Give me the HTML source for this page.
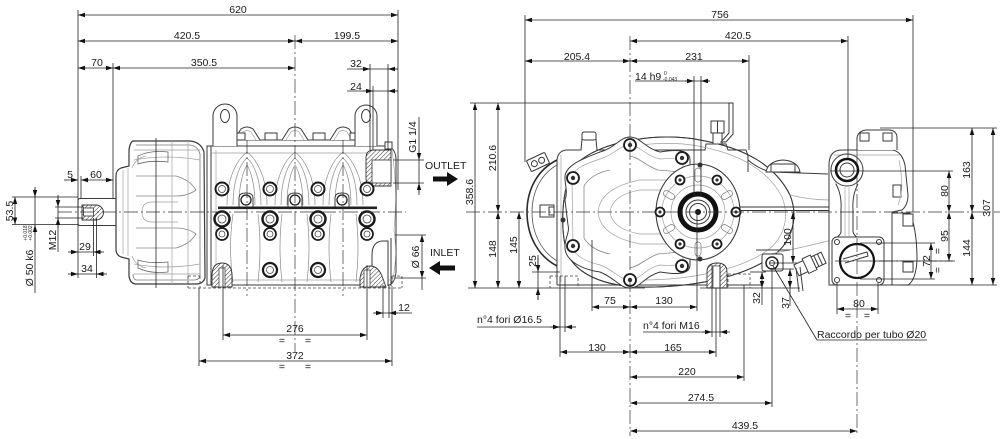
<!DOCTYPE html>
<html><head><meta charset="utf-8">
<style>
html,body{margin:0;padding:0;background:#fff;}
svg{display:block;}
text{font-family:"Liberation Sans",Arial,sans-serif;font-size:10.5px;fill:#1a1a1a;}
.d{stroke:#222;stroke-width:0.8;fill:none;}
.da{stroke:#222;stroke-width:0.8;fill:none;marker-start:url(#ar);marker-end:url(#ar);}
.de{stroke:#222;stroke-width:0.8;fill:none;marker-end:url(#ar);}
.o{stroke:#3a3a3a;stroke-width:1;fill:none;}
.ow{stroke:#3a3a3a;stroke-width:1;fill:#fff;}
.l{stroke:#a0a0a0;stroke-width:0.7;fill:none;}
.c{stroke:#333;stroke-width:0.7;fill:none;stroke-dasharray:14 3 2 3;}
.h{stroke:#444;stroke-width:0.8;fill:none;stroke-dasharray:3 2;}
.bt{stroke:#1a1a1a;fill:#fff;}
.hat{fill:url(#hp);stroke:#333;stroke-width:0.9;}
</style></head><body>
<svg width="1000" height="439" viewBox="0 0 1000 439" xmlns="http://www.w3.org/2000/svg">
<defs>
<marker id="ar" viewBox="0 0 10 10" refX="10" refY="5" markerWidth="7" markerHeight="7" orient="auto-start-reverse" markerUnits="userSpaceOnUse"><path d="M0,1.8 L10,5 L0,8.2z" fill="#111"/></marker>
<pattern id="hp" width="3" height="3" patternUnits="userSpaceOnUse" patternTransform="rotate(45)"><rect width="3" height="3" fill="#fff"/><line x1="0" y1="0" x2="0" y2="3" stroke="#333" stroke-width="1"/></pattern>
</defs>

<!-- ================= LEFT VIEW ================= -->
<!-- crank cover -->
<path class="ow" d="M133,141 L190,141 Q201,142 204,152 L205,278 Q203,284 196,284 L135,284 Q130,283 129,276 L129,259 L121,257 Q116,255 116,249 L116,176 Q116,170 121,168 L129,166 L129,150 Q130,142 133,141Z" style="stroke-width:1.2"/>
<path class="o" d="M136,145 L190,145 Q198,146 200,154 L200,276 Q199,280 194,280 L136,280 Q133,279 133,274" style="stroke:#777;stroke-width:0.8"/>
<path class="l" d="M134,150 L200,150 M134,160 Q165,154 200,160 M134,264 Q165,270 200,264 M134,274 L200,274"/>
<path class="l" d="M123,170 L123,254 M128,168 L128,256"/>
<path class="o" d="M136,176 L176,176 Q190,180 196,190 Q188,196 176,196 L136,196" style="stroke:#888;stroke-width:0.8"/>
<path class="o" d="M136,248 L176,248 Q190,244 196,234 Q188,228 176,228 L136,228" style="stroke:#888;stroke-width:0.8"/>
<path class="l" d="M178,202 L152,202 Q142,202 142,212 Q142,222 152,222 L178,222"/>
<path class="l" d="M172,141 L172,284 M188,141 L188,284 M132,168 Q136,158 146,156 M132,256 Q136,266 146,268"/>
<path class="o" d="M138,156 Q150,150 168,152 L168,162 Q150,160 138,164 Z M138,268 Q150,274 168,272 L168,262 Q150,264 138,260 Z" style="stroke:#666;stroke-width:0.8"/>
<line class="d" x1="156" y1="138" x2="156" y2="288"/>

<!-- shaft -->
<path class="o" d="M116,198.5 L80,198.5 Q78,198.5 78,201 L78,223 Q78,225.5 80,225.5 L116,225.5"/>
<path class="hat" d="M82,205 L96,205 A7.5,7.5 0 0 1 96,220 L82,220 Z"/>
<rect x="83.5" y="208" width="10" height="8" fill="#fff" stroke="#333" stroke-width="0.8"/>

<!-- main body -->
<path class="ow" d="M207,285 L207,146 L389,146 Q396,150 396,160 L396,272 Q395,283 389,285 Z"/>
<line class="o" x1="211" y1="146" x2="211" y2="285"/>
<path class="l" d="M216,150 L216,282 M211,153 L389,153 M211,280 L392,280 M392,150 Q398,190 394,230 Q398,260 392,282"/>
<!-- crest -->
<line class="o" x1="222" y1="140" x2="372" y2="140"/>
<line class="o" x1="222" y1="140" x2="222" y2="146"/>
<line class="o" x1="372" y1="140" x2="372" y2="146"/>
<path class="ow" d="M234,140 L241,129 Q247,125 253,129 L260,140"/>
<path class="ow" d="M282,140 L289,129 Q295,125 301,129 L308,140"/>
<path class="ow" d="M330,140 L337,129 Q343,125 349,129 L356,140"/>
<path class="l" d="M238,140 L243,132 Q247,129 251,132 L256,140 M286,140 L291,132 Q295,129 299,132 L304,140 M334,140 L339,132 Q343,129 347,132 L352,140"/>
<rect class="ow" x="265" y="133" width="12" height="7"/>
<rect class="ow" x="313" y="133" width="12" height="7"/>
<rect class="ow" x="236" y="133" width="9" height="7"/>
<rect class="ow" x="350" y="133" width="9" height="7"/>
<!-- lifting eyes -->
<path class="ow" d="M213,146 L213,116 A12,12 0 0 1 237,116 L237,146"/>
<ellipse class="o" cx="225" cy="116" rx="4.5" ry="6.5"/>
<path class="ow" d="M355,146 L355,116 A11,11 0 0 1 377,116 L377,146"/>
<ellipse class="o" cx="366" cy="116" rx="4.5" ry="6.5"/>
<!-- arches -->
<g class="l" style="stroke:#8a8a8a">
<path d="M227,205 C227,175 239,158 247,152 C255,158 267,175 267,205"/>
<path d="M233,205 C233,178 241,163 247,158 C253,163 261,178 261,205"/>
<path d="M239,205 C239,182 244,170 247,165 C250,170 255,182 255,205"/>
<path d="M275,205 C275,175 287,158 295,152 C303,158 315,175 315,205"/>
<path d="M281,205 C281,178 289,163 295,158 C301,163 309,178 309,205"/>
<path d="M287,205 C287,182 292,170 295,165 C298,170 303,182 303,205"/>
<path d="M323,205 C323,175 335,158 343,152 C351,158 363,175 363,205"/>
<path d="M329,205 C329,178 337,163 343,158 C349,163 357,178 357,205"/>
<path d="M335,205 C335,182 340,170 343,165 C346,170 351,182 351,205"/>
<path d="M233,214 Q228,248 233,282 M258,214 Q262,248 258,282 M282,214 Q278,248 282,282 M307,214 Q311,248 307,282 M331,214 Q327,248 331,282 M356,214 Q360,248 356,282"/>
</g>
<!-- outlet section -->
<path class="hat" d="M366,158 Q366,150 374,150 L391,150 L391,186 L374,186 Q366,186 366,178 Z"/>
<rect x="372" y="160" width="19" height="23" fill="#fff" stroke="#333" stroke-width="0.8"/>
<rect class="ow" x="385" y="142" width="7" height="7"/>
<!-- inlet -->
<path class="ow" d="M372,286 L372,255 Q372,242 382,241 L388,241 L388,286"/>
<line class="o" x1="391" y1="238" x2="391" y2="286"/>
<path class="hat" d="M360,287 L360,278 Q362,266 370,266 Q378,266 382,276 L386,287 Z"/>
<rect x="364" y="270" width="6" height="17" fill="#fff" stroke="#333" stroke-width="0.7"/>
<path class="hat" d="M212,287 L212,276 Q212,263 222,263 Q232,263 232,276 L232,287 Z"/>
<rect x="219" y="268" width="6" height="19" fill="#fff" stroke="#333" stroke-width="0.7"/>
<!-- bolts -->
<g class="bt">
<circle cx="222" cy="189" r="6.5" stroke-width="2"/><circle cx="270" cy="189" r="6.5" stroke-width="2"/><circle cx="318" cy="189" r="6.5" stroke-width="2"/><circle cx="367" cy="189" r="6.5" stroke-width="2"/>
</g>
<path class="o" d="M239,207 L239,198 Q239,193 246,193 Q253,193 253,198 L253,207 M288,207 L288,198 Q288,193 295,193 Q302,193 302,198 L302,207 M335,207 L335,198 Q335,193 342,193 Q349,193 349,198 L349,207"/>
<g class="bt"><circle cx="246" cy="200" r="5" stroke-width="1.3"/><circle cx="295" cy="200" r="5" stroke-width="1.3"/><circle cx="342" cy="200" r="5" stroke-width="1.3"/></g>
<rect x="218" y="206.5" width="159" height="2.6" fill="#222"/>
<g class="bt">
<circle cx="222" cy="219" r="7.5" stroke-width="2.5"/><circle cx="270" cy="219" r="7.5" stroke-width="2.5"/><circle cx="318" cy="219" r="7.5" stroke-width="2.5"/><circle cx="367" cy="219" r="7.5" stroke-width="2.5"/>
<circle cx="222" cy="234" r="6" stroke-width="1.7"/><circle cx="270" cy="234" r="6" stroke-width="1.7"/><circle cx="318" cy="234" r="6" stroke-width="1.7"/><circle cx="367" cy="234" r="6" stroke-width="1.7"/>
<circle cx="270" cy="270" r="7" stroke-width="2.2"/><circle cx="318" cy="270" r="7" stroke-width="2.2"/>
</g>
<g fill="none" stroke="#444" stroke-width="0.8">
<circle cx="222" cy="189" r="3.5"/><circle cx="270" cy="189" r="3.5"/><circle cx="318" cy="189" r="3.5"/><circle cx="367" cy="189" r="3.5"/>
<circle cx="222" cy="219" r="4"/><circle cx="270" cy="219" r="4"/><circle cx="318" cy="219" r="4"/><circle cx="367" cy="219" r="4"/>
<circle cx="222" cy="234" r="3"/><circle cx="270" cy="234" r="3"/><circle cx="318" cy="234" r="3"/><circle cx="367" cy="234" r="3"/>
<circle cx="270" cy="270" r="3.5"/><circle cx="318" cy="270" r="3.5"/>
</g>
<!-- feet (hidden) -->
<path class="h" d="M188,276 L200,276 M188,288 L402,288 M188,276 L188,288 M200,276 L200,288 M392,276 L392,288 M402,276 L402,288 M392,276 L402,276"/>
<!-- centerlines -->
<line class="c" x1="58" y1="212" x2="406" y2="212"/>
<line class="c" x1="295" y1="35" x2="295" y2="352"/>
<line class="c" x1="247" y1="140" x2="247" y2="296"/>
<line class="c" x1="343" y1="140" x2="343" y2="296"/>

<!-- left extension lines -->
<g class="d">
<line x1="78" y1="10" x2="78" y2="278"/>
<line x1="398" y1="10" x2="398" y2="190"/>
<line x1="113" y1="63" x2="113" y2="198"/>
<line x1="370" y1="64" x2="370" y2="150"/>
<line x1="388" y1="64" x2="388" y2="150"/>
<line x1="373" y1="86" x2="373" y2="150"/>
<line x1="393" y1="160" x2="424" y2="160"/>
<line x1="393" y1="183" x2="424" y2="183"/>
<line x1="395" y1="235" x2="426" y2="235"/>
<line x1="395" y1="278" x2="426" y2="278"/>
<line x1="12" y1="197" x2="78" y2="197"/>
<line x1="12" y1="224.5" x2="78" y2="224.5"/>
<line x1="55" y1="207" x2="84" y2="207"/>
<line x1="55" y1="218" x2="84" y2="218"/>
<line x1="81" y1="176" x2="81" y2="198"/>
<line x1="93.5" y1="218" x2="93.5" y2="256"/>
<line x1="96.5" y1="218" x2="96.5" y2="278"/>
<line x1="223" y1="265" x2="223" y2="340"/>
<line x1="367" y1="265" x2="367" y2="340"/>
<line x1="199" y1="288" x2="199" y2="366"/>
<line x1="392" y1="288" x2="392" y2="366"/>
<line x1="383" y1="285" x2="383" y2="318"/>
<line x1="389" y1="285" x2="389" y2="318"/>
<line x1="347" y1="69" x2="397" y2="69"/>
<line x1="347" y1="91" x2="397" y2="91"/>
<line x1="419" y1="117" x2="419" y2="195"/>
<line x1="422" y1="278" x2="422" y2="290"/>
<line x1="35" y1="188" x2="35" y2="293"/>
<line x1="58" y1="195" x2="58" y2="252"/>
<line x1="70" y1="252" x2="102" y2="252"/>
<line x1="70" y1="274" x2="105" y2="274"/>
<line x1="373" y1="313" x2="412" y2="313"/>
</g>
<!-- left dimension lines -->
<line class="da" x1="78" y1="15" x2="398" y2="15"/>
<line class="da" x1="78" y1="41" x2="295" y2="41"/>
<line class="da" x1="295" y1="41" x2="398" y2="41"/>
<line class="da" x1="78" y1="68" x2="113" y2="68"/>
<line class="da" x1="113" y1="68" x2="295" y2="68"/>
<line class="da" x1="81" y1="180" x2="113" y2="180"/>
<line class="de" x1="64" y1="180" x2="78" y2="180"/>
<line class="de" x1="360" y1="69" x2="370" y2="69"/>
<line class="de" x1="398" y1="69" x2="388" y2="69"/>
<line class="de" x1="363" y1="91" x2="373" y2="91"/>
<line class="de" x1="398" y1="91" x2="388" y2="91"/>
<line class="de" x1="419" y1="150" x2="419" y2="160"/>
<line class="de" x1="419" y1="193" x2="419" y2="183"/>
<line class="da" x1="422" y1="235" x2="422" y2="278"/>
<line class="da" x1="15" y1="197" x2="15" y2="224.5"/>
<line class="de" x1="35" y1="187" x2="35" y2="197"/>
<line class="de" x1="35" y1="235" x2="35" y2="225"/>
<line class="de" x1="58" y1="197" x2="58" y2="207"/>
<line class="de" x1="58" y1="228" x2="58" y2="218"/>
<line class="de" x1="68" y1="252" x2="78" y2="252"/>
<line class="de" x1="104" y1="252" x2="93.5" y2="252"/>
<line class="de" x1="68" y1="274" x2="78" y2="274"/>
<line class="de" x1="107" y1="274" x2="96.5" y2="274"/>
<line class="da" x1="223" y1="335" x2="367" y2="335"/>
<line class="da" x1="199" y1="361" x2="392" y2="361"/>
<line class="de" x1="374" y1="313" x2="383" y2="313"/>
<line class="de" x1="398" y1="313" x2="389" y2="313"/>

<!-- left labels -->
<g text-anchor="middle">
<text x="238" y="13">620</text>
<text x="187" y="39">420.5</text>
<text x="347" y="39">199.5</text>
<text x="97" y="66">70</text>
<text x="204" y="66">350.5</text>
<text x="356" y="67">32</text>
<text x="356" y="90">24</text>
<text x="70" y="178">5</text>
<text x="96" y="178">60</text>
<text x="85" y="250">29</text>
<text x="87" y="272">34</text>
<text x="295" y="332">276</text>
<text x="282" y="344">=</text><text x="308" y="344">=</text>
<text x="295" y="359">372</text>
<text x="282" y="370">=</text><text x="308" y="370">=</text>
<text x="404" y="311">12</text>
<text transform="translate(13,211) rotate(-90)">53.5</text>
<text transform="translate(33,268) rotate(-90)">Ø 50 k6</text>
<text transform="translate(27,233) rotate(-90)" style="font-size:5px">+0.018</text>
<text transform="translate(32,233) rotate(-90)" style="font-size:5px">+0.002</text>
<text transform="translate(56,240) rotate(-90)">M12</text>
<text transform="translate(416,137) rotate(-90)">G1 1/4</text>
<text transform="translate(419,257) rotate(-90)">Ø 66</text>
</g>
<text x="425" y="169">OUTLET</text>
<text x="430" y="256">INLET</text>
<path d="M433,176.5 L447,176.5 L447,172 L458,179 L447,186 L447,181.5 L433,181.5 Z" fill="#111"/>
<path d="M455,265.5 L440,265.5 L440,261 L429,268 L440,275 L440,270.5 L455,270.5 Z" fill="#111"/>

<!-- ================= RIGHT VIEW ================= -->
<!-- big oval housing -->
<path class="ow" d="M575,165 C600,140 660,132 700,140 C745,148 775,165 790,195 C800,220 790,245 770,258 C740,278 690,288 640,287 C605,286 578,275 568,255 C560,235 560,190 575,165 Z"/>
<!-- gearbox box -->
<path class="o" d="M557,285 L557,160 Q558,151 566,150 L581,150 L582,139 L596,139 L597,150 L705,150 L706,144 L726,144 L728,150 L746,150 L748,156 L748,172"/>
<line class="o" x1="557" y1="285" x2="762" y2="285"/>
<line class="l" x1="561" y1="155" x2="561" y2="282"/>
<rect class="ow" x="582" y="132" width="14" height="8" rx="2"/>
<path class="ow" d="M575,165 C600,140 660,132 700,140 C745,148 775,165 790,195 C800,220 790,245 770,258 C740,278 690,288 640,287 C605,286 578,275 568,255 C560,235 560,190 575,165 Z" style="fill:none"/>
<path class="l" d="M582,168 C605,146 660,139 698,146 C740,154 768,170 782,197 C791,220 782,241 765,252 C738,270 690,280 642,280 C610,279 587,270 577,252 C569,234 570,192 582,168 Z"/>
<!-- left cap -->
<path d="M557,160 C537,170 527,190 527,212 C527,236 538,256 557,266" fill="none" stroke="#2a2a2a" stroke-width="1.6"/>
<path d="M557,165 C541,174 532,192 532,212 C532,233 541,251 557,261" fill="none" stroke="#555" stroke-width="0.8"/>
<rect class="ow" x="540" y="205" width="14" height="12"/>
<rect class="o" x="549" y="207" width="5" height="8"/>
<g transform="translate(538,162) rotate(-25)"><rect class="ow" x="-10" y="-6" width="20" height="12" rx="1"/><circle class="o" cx="-4" cy="0" r="3"/><circle class="o" cx="4" cy="0" r="3"/></g>
<!-- cover -->
<path class="ow" d="M630,137 C640,137 645,148 660,152 C672,150 690,148 690,160 L690,265 C690,276 672,274 660,272 C645,276 640,288 630,288 C620,288 615,278 600,272 C585,270 564,262 565,246 C565,238 570,232 568,225 L565,200 C568,192 565,185 565,178 C564,165 585,158 600,152 C615,148 620,137 630,137 Z"/>
<path class="l" d="M630,145 C640,146 646,156 660,159 C672,158 683,158 683,166 L683,258 C683,266 672,266 660,265 C646,268 640,280 630,280 C620,280 614,270 600,265 C588,262 573,256 573,246 L572,178 C573,168 588,163 600,159 C614,155 620,145 630,145 Z"/>
<path class="o" d="M630,156 C640,158 646,166 658,170 L680,172 M630,268 C640,266 646,258 658,254 L680,252 M584,186 C590,176 600,172 610,170 M584,238 C590,248 600,252 610,254 M584,186 L584,238" style="stroke:#888;stroke-width:0.8"/>
<path class="l" d="M688,190 L640,190 Q612,195 610,212 Q612,229 640,234 L688,234"/>
<path class="l" d="M690,180 L640,180 Q600,188 598,212 Q600,236 640,244 L690,244"/>
<!-- flange -->
<ellipse class="ow" cx="698" cy="212" rx="42" ry="48" style="stroke-width:1.1"/>
<circle class="l" cx="698" cy="212" r="36"/>
<circle class="l" cx="698" cy="212" r="27"/>
<g class="l" style="stroke:#777">
<rect x="695" y="168" width="6" height="14" rx="3"/><rect x="695" y="242" width="6" height="14" rx="3"/>
<rect x="663" y="192" width="12" height="6" rx="3" transform="rotate(30 669 195)"/>
<rect x="721" y="192" width="12" height="6" rx="3" transform="rotate(-30 727 195)"/>
<rect x="663" y="226" width="12" height="6" rx="3" transform="rotate(-30 669 229)"/>
<rect x="721" y="226" width="12" height="6" rx="3" transform="rotate(30 727 229)"/>
</g>
<!-- bolts right -->
<g class="bt" stroke-width="1.8">
<circle cx="630" cy="145" r="6"/><circle cx="573" cy="178" r="6"/><circle cx="573" cy="246" r="6"/><circle cx="630" cy="280" r="6"/><circle cx="682" cy="158" r="6"/><circle cx="682" cy="266" r="6"/>
<circle cx="680" cy="180" r="4.5"/><circle cx="717" cy="180" r="4.5"/><circle cx="660" cy="212" r="4.5"/><circle cx="736" cy="212" r="4.5"/><circle cx="680" cy="244" r="4.5"/><circle cx="717" cy="244" r="4.5"/>
</g>
<g fill="#333">
<circle cx="630" cy="145" r="2.2"/><circle cx="573" cy="178" r="2.2"/><circle cx="573" cy="246" r="2.2"/><circle cx="630" cy="280" r="2.2"/><circle cx="682" cy="158" r="2.2"/><circle cx="682" cy="266" r="2.2"/>
<circle cx="680" cy="180" r="1.6"/><circle cx="717" cy="180" r="1.6"/><circle cx="660" cy="212" r="1.6"/><circle cx="736" cy="212" r="1.6"/><circle cx="680" cy="244" r="1.6"/><circle cx="717" cy="244" r="1.6"/>
<circle cx="700" cy="165" r="2.5"/><circle cx="700" cy="259" r="2.5"/><circle cx="563" cy="220" r="2.5"/>
</g>
<!-- seal -->
<circle cx="698" cy="212" r="18" fill="#fff" stroke="#111" stroke-width="5"/>
<circle class="o" cx="698" cy="212" r="12"/>
<circle class="o" cx="698" cy="212" r="8.5"/>
<circle cx="698" cy="212" r="3" fill="#111"/>
<!-- top bolt + bracket -->
<rect class="ow" x="711" y="121" width="13" height="12"/>
<line class="o" x1="717.5" y1="121" x2="717.5" y2="133"/>
<rect class="ow" x="713" y="133" width="9" height="11"/>
<path class="ow" d="M729,103 L733,103 L733,134 L726,142 L721,142 L729,133 Z"/>
<!-- connecting body -->
<path class="o" d="M748,160 Q760,170 772,172 L828,174"/>
<path class="ow" d="M766,172 Q768,161 783,160 Q798,161 800,172 Z"/>
<rect class="o" x="771" y="164" width="24" height="8"/>
<line x1="740" y1="207" x2="840" y2="207" stroke="#333" stroke-width="1"/>
<line x1="740" y1="210.5" x2="840" y2="210.5" stroke="#333" stroke-width="1"/>
<path class="l" d="M770,254 Q800,248 832,240 M790,195 Q810,200 830,200"/>
<!-- pump head -->
<path class="ow" d="M829,285 L829,165 Q829,150 842,150 L893,150 Q902,152 905,165 L908,195 Q908,205 902,210 L892,212 L892,285 Z"/>
<path class="ow" d="M892,213 L910,213 Q917,230 917,260 Q916,280 908,285 L892,285 Z"/>
<rect class="ow" x="903" y="214" width="10" height="12"/>
<rect class="ow" x="903" y="262" width="10" height="10"/>
<rect class="ow" x="893" y="185" width="8" height="12"/>
<path class="ow" d="M857,150 L857,138 Q858,131 866,130 L890,130 Q897,131 897,138 L897,150"/>
<rect class="o" x="860" y="133" width="9" height="8"/>
<rect class="o" x="883" y="133" width="9" height="8"/>
<path class="l" d="M834,155 L900,155 M836,160 L836,185 M899,160 Q905,190 898,205"/>
<circle class="ow" cx="847" cy="170" r="16"/>
<circle cx="847" cy="170" r="11" fill="#fff" stroke="#111" stroke-width="2.5"/>
<circle class="o" cx="847" cy="170" r="7"/>
<path class="o" d="M836,184 Q842,195 841,210 L841,232 Q840,236 835,238 M858,184 Q852,195 853,210 L853,232 Q854,236 859,238"/>
<path class="l" d="M845,187 L845,236 M849,187 L849,236"/>
<rect class="ow" x="832" y="237" width="52" height="48" rx="5"/>
<g class="o"><circle cx="837" cy="242" r="2.5"/><circle cx="879" cy="242" r="2.5"/><circle cx="837" cy="280" r="2.5"/><circle cx="879" cy="280" r="2.5"/></g>
<circle cx="857" cy="261" r="17" fill="#fff" stroke="#111" stroke-width="2.2"/>
<path class="o" d="M843,259 L867,252 L868,256 L845,263"/>
<!-- fitting + valve -->
<rect class="ow" x="762" y="254" width="21" height="17" rx="2"/>
<circle cx="772" cy="263" r="6" fill="#fff" stroke="#222" stroke-width="1.5"/>
<circle class="o" cx="772" cy="263" r="2.5"/>
<line class="o" x1="756" y1="250" x2="790" y2="250"/>
<g transform="translate(810,264) rotate(-25)">
<rect class="ow" x="-15" y="-6" width="30" height="12"/>
<rect class="ow" x="-5" y="-8" width="9" height="16"/>
<line class="o" x1="7" y1="-6" x2="7" y2="6"/><line class="o" x1="11" y1="-6" x2="11" y2="6"/>
</g>
<path class="o" d="M796,268 L799,292 M800,267 L803,291"/>
<!-- feet right -->
<path class="h" d="M550,276 L578,276 L578,288 M550,276 L550,288 M728,274 L750,274 L750,288 M728,274 L728,288"/>
<path class="hat" d="M707,288 L707,272 Q707,263 717,263 Q727,263 727,272 L727,288 Z"/>
<rect x="713" y="266" width="7" height="22" fill="#fff" stroke="#333" stroke-width="0.7"/>

<!-- right centerlines -->
<line class="c" x1="466" y1="212" x2="1000" y2="212"/>
<line class="c" x1="630" y1="36" x2="630" y2="436"/>
<line class="c" x1="857" y1="150" x2="857" y2="435"/>
<line class="c" x1="835" y1="261" x2="955" y2="261"/>

<!-- right extension lines -->
<g class="d">
<line x1="525" y1="15" x2="525" y2="162"/>
<line x1="749" y1="55" x2="749" y2="150"/>
<line x1="848" y1="36" x2="848" y2="158"/>
<line x1="913" y1="15" x2="913" y2="212"/>
<line x1="694" y1="76" x2="694" y2="196"/>
<line x1="701" y1="76" x2="701" y2="196"/>
<line x1="470" y1="103" x2="729" y2="103"/>
<line x1="532" y1="272" x2="560" y2="272"/>
<line x1="468" y1="288" x2="645" y2="288"/>
<line x1="700" y1="288" x2="800" y2="288"/>
<line x1="592" y1="240" x2="592" y2="311"/>
<line x1="697" y1="215" x2="697" y2="311"/>
<line x1="560" y1="276" x2="560" y2="357"/>
<line x1="565" y1="276" x2="565" y2="332"/>
<line x1="712" y1="265" x2="712" y2="337"/>
<line x1="720" y1="265" x2="720" y2="337"/>
<line x1="716" y1="288" x2="716" y2="357"/>
<line x1="744" y1="285" x2="744" y2="381"/>
<line x1="772" y1="268" x2="772" y2="407"/>
<line x1="880" y1="128" x2="997" y2="128"/>
<line x1="830" y1="171" x2="953" y2="171"/>
<line x1="870" y1="261" x2="953" y2="261"/>
<line x1="860" y1="243" x2="935" y2="243"/>
<line x1="860" y1="279" x2="935" y2="279"/>
<line x1="900" y1="285" x2="997" y2="285"/>
<line x1="770" y1="263" x2="797" y2="263"/>
<line x1="775" y1="269" x2="794" y2="269"/>
<line x1="750" y1="272" x2="766" y2="272"/>
<line x1="837" y1="283" x2="837" y2="314"/>
<line x1="878" y1="283" x2="878" y2="314"/>
<line x1="635" y1="81" x2="710" y2="81"/>
<line x1="538" y1="255" x2="538" y2="300"/>
<line x1="477" y1="327" x2="576" y2="327"/>
<line x1="643" y1="332" x2="728" y2="332"/>
<line x1="762" y1="288" x2="762" y2="305"/>
<line x1="790" y1="288" x2="790" y2="306"/>
<line x1="817" y1="340" x2="927" y2="340"/>
<line x1="817" y1="340" x2="773" y2="266"/>
</g>
<!-- right dimension lines -->
<line class="da" x1="525" y1="20" x2="913" y2="20"/>
<line class="da" x1="630" y1="41" x2="848" y2="41"/>
<line class="da" x1="525" y1="61" x2="630" y2="61"/>
<line class="da" x1="630" y1="61" x2="749" y2="61"/>
<line class="de" x1="685" y1="81" x2="694" y2="81"/>
<line class="de" x1="710" y1="81" x2="701" y2="81"/>
<line class="da" x1="475" y1="103" x2="475" y2="288"/>
<line class="da" x1="498" y1="103" x2="498" y2="212"/>
<line class="da" x1="498" y1="212" x2="498" y2="288"/>
<line class="da" x1="519" y1="212" x2="519" y2="288"/>
<line class="de" x1="538" y1="258" x2="538" y2="272"/>
<line class="de" x1="538" y1="300" x2="538" y2="288"/>
<line class="da" x1="592" y1="307" x2="630" y2="307"/>
<line class="da" x1="630" y1="307" x2="697" y2="307"/>
<line class="de" x1="550" y1="327" x2="560" y2="327"/>
<line class="de" x1="576" y1="327" x2="565" y2="327"/>
<line class="de" x1="702" y1="332" x2="712" y2="332"/>
<line class="de" x1="730" y1="332" x2="720" y2="332"/>
<line class="da" x1="560" y1="352" x2="630" y2="352"/>
<line class="da" x1="630" y1="352" x2="716" y2="352"/>
<line class="da" x1="630" y1="377" x2="744" y2="377"/>
<line class="da" x1="630" y1="403" x2="772" y2="403"/>
<line class="da" x1="630" y1="431" x2="857" y2="431"/>
<line class="da" x1="762" y1="272" x2="762" y2="288"/>
<line class="da" x1="790" y1="269" x2="790" y2="288"/>
<line class="da" x1="793" y1="212" x2="793" y2="263"/>
<line class="da" x1="837" y1="309" x2="878" y2="309"/>
<line class="da" x1="972" y1="128" x2="972" y2="212"/>
<line class="da" x1="972" y1="212" x2="972" y2="285"/>
<line class="da" x1="993" y1="128" x2="993" y2="285"/>
<line class="da" x1="949" y1="171" x2="949" y2="212"/>
<line class="da" x1="949" y1="212" x2="949" y2="261"/>
<line class="da" x1="931" y1="243" x2="931" y2="279"/>

<!-- right labels -->
<g text-anchor="middle">
<text x="720" y="18">756</text>
<text x="738" y="39">420.5</text>
<text x="577" y="60">205.4</text>
<text x="694" y="60">231</text>
<text x="610" y="304">75</text>
<text x="664" y="304">130</text>
<text x="597" y="351">130</text>
<text x="673" y="351">165</text>
<text x="687" y="375">220</text>
<text x="701" y="401">274.5</text>
<text x="745" y="429">439.5</text>
<text x="859" y="307">80</text>
<text x="848" y="319">=</text><text x="867" y="319">=</text>
<text transform="translate(473,192) rotate(-90)">358.6</text>
<text transform="translate(496,158) rotate(-90)">210.6</text>
<text transform="translate(496,249) rotate(-90)">148</text>
<text transform="translate(517,245) rotate(-90)">145</text>
<text transform="translate(536,261) rotate(-90)">25</text>
<text transform="translate(760,298) rotate(-90)">32</text>
<text transform="translate(789,303) rotate(-90)">37</text>
<text transform="translate(791,237) rotate(-90)">100</text>
<text transform="translate(970,170) rotate(-90)">163</text>
<text transform="translate(990,208) rotate(-90)">307</text>
<text transform="translate(948,191) rotate(-90)">80</text>
<text transform="translate(948,236) rotate(-90)">95</text>
<text transform="translate(970,248) rotate(-90)">144</text>
<text transform="translate(930,261) rotate(-90)">72</text>
<text transform="translate(941,251) rotate(-90)">=</text>
<text transform="translate(941,270) rotate(-90)">=</text>
</g>
<text x="635" y="80">14 h9</text>
<text x="664" y="75" style="font-size:5px">0</text>
<text x="663" y="81" style="font-size:5px">-0.043</text>
<text x="477" y="323">n°4 fori  Ø16.5</text>
<text x="643" y="329">n°4 fori M16</text>
<text x="817" y="338">Raccordo per tubo Ø20</text>
</svg>
</body></html>
